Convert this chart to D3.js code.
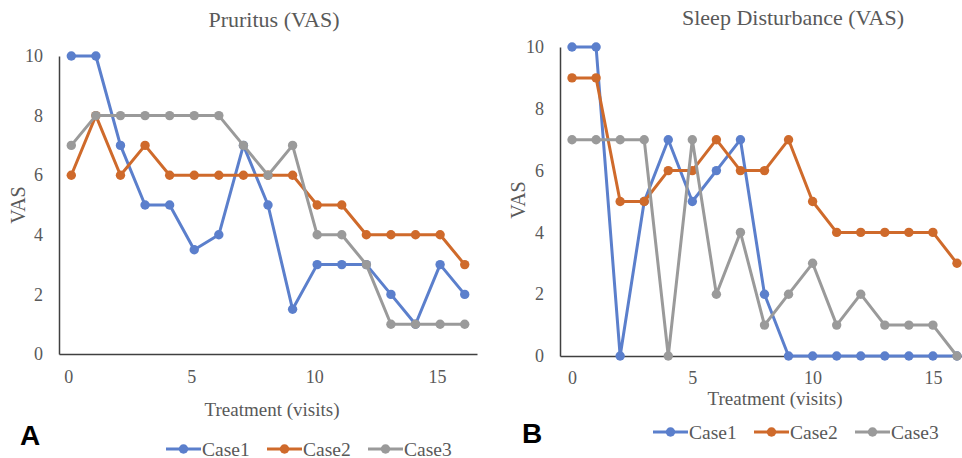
<!DOCTYPE html>
<html>
<head>
<meta charset="utf-8">
<script src="https://cdn.jsdelivr.net/npm/d3@7"></script>
<style>
  body { margin: 0; background: #fff; }
  svg { display: block; }
  text { font-family: "Times New Roman", "Liberation Serif", serif; fill: #595959; }
</style>
</head>
<body>
<div id="chart"></div>
<script>
// visits on the x axis
var visits = d3.range(0, 17)

// series names + colours
var cases = ["Case1", "Case2", "Case3"]
var colors = ["#5b7fcc", "#cf6a2b", "#9a9a9a"]

// panel A : Pruritus (VAS)
var pruritusCase1 = [10, 10, 7, 5, 5, 3.5, 4, 7, 5, 1.5, 3, 3, 3, 2, 1, 3, 2]
var pruritusCase2 = [6, 8, 6, 7, 6, 6, 6, 6, 6, 6, 5, 5, 4, 4, 4, 4, 3]
var pruritusCase3 = [7, 8, 8, 8, 8, 8, 8, 7, 6, 7, 4, 4, 3, 1, 1, 1, 1]

// panel B : Sleep Disturbance (VAS)
var sleepCase1 = [10, 10, 0, 5, 7, 5, 6, 7, 2, 0, 0, 0, 0, 0, 0, 0, 0]
var sleepCase2 = [9, 9, 5, 5, 6, 6, 7, 6, 6, 7, 5, 4, 4, 4, 4, 4, 3]
var sleepCase3 = [7, 7, 7, 7, 0, 7, 2, 4, 1, 2, 3, 1, 2, 1, 1, 1, 0]

// tick labels
var xTicks = [0, 5, 10, 15]
var yTicks = [0, 2, 4, 6, 8, 10]

var width = 962, height = 458

var svg = d3.select("#chart")
  .append("svg")
  .attr("width", width)
  .attr("height", height)

// layout of the two panels (pixels)
var panels = [
  { title: "Pruritus (VAS)", letter: "A", series: [pruritusCase1, pruritusCase2, pruritusCase3],
    left: 59, right: 477, top: 56, bottom: 354,
    titleX: 274, titleY: 27, yLabX: 25, yLabY: 205, xLabX: 272, xLabY: 416, tickY: 383, tickDx: -3,
    letterX: 20, letterY: 445, legendX: 166, legendY: 449 },
  { title: "Sleep Disturbance (VAS)", letter: "B", series: [sleepCase1, sleepCase2, sleepCase3],
    left: 560, right: 969, top: 47, bottom: 356,
    titleX: 793, titleY: 25, yLabX: 525, yLabY: 200, xLabX: 775, xLabY: 405, tickY: 384, tickDx: 0,
    letterX: 522, letterY: 443, legendX: 653, legendY: 432 }
]

panels.forEach(function (p) {
  var g = svg.append("g")

  var x = d3.scaleLinear().domain([-0.5, 16.5]).range([p.left, p.right])
  var y = d3.scaleLinear().domain([0, 10]).range([p.bottom, p.top])

  // y axis (no ticks, just the line + labels)
  var yAxis = g.append("g")
    .attr("transform", "translate(" + p.left + ",0)")
    .call(d3.axisLeft(y).tickValues(yTicks).tickSize(0).tickPadding(16).tickFormat(d3.format("d")))
  yAxis.select(".domain").attr("stroke", "#404040").attr("stroke-width", 1.5)
  yAxis.selectAll("text").style("font-size", "18px").attr("fill", "#595959")
    .style("font-family", "'Times New Roman', 'Liberation Serif', serif")

  // x axis
  var xAxis = g.append("g")
    .attr("transform", "translate(0," + p.bottom + ")")
    .call(d3.axisBottom(x).tickValues(xTicks).tickSize(0).tickPadding(0))
  xAxis.select(".domain").attr("stroke", "#404040").attr("stroke-width", 1.5)
  xAxis.selectAll("text").style("font-size", "18px").attr("fill", "#595959")
    .style("font-family", "'Times New Roman', 'Liberation Serif', serif")
    .attr("dy", null).attr("y", p.tickY - p.bottom).attr("dx", p.tickDx)

  // lines + markers
  p.series.forEach(function (vals, i) {
    var pts = visits.map(function (v, k) { return [v, vals[k]] })
    g.append("path")
      .attr("d", d3.line().x(function (d) { return x(d[0]) }).y(function (d) { return y(d[1]) })(pts))
      .attr("fill", "none")
      .attr("stroke", colors[i])
      .attr("stroke-width", 3)
      .attr("stroke-linejoin", "round")
    g.selectAll(".dot" + i)
      .data(pts).enter()
      .append("circle")
      .attr("cx", function (d) { return x(d[0]) })
      .attr("cy", function (d) { return y(d[1]) })
      .attr("r", 4.7)
      .attr("fill", colors[i])
  })

  // titles
  g.append("text").attr("x", p.titleX).attr("y", p.titleY)
    .attr("text-anchor", "middle").style("font-size", "22px").text(p.title)
  g.append("text").attr("transform", "translate(" + p.yLabX + "," + p.yLabY + ") rotate(-90)")
    .attr("text-anchor", "middle").style("font-size", "20px").text("VAS")
  g.append("text").attr("x", p.xLabX).attr("y", p.xLabY)
    .attr("text-anchor", "middle").style("font-size", "19px").text("Treatment (visits)")

  // panel letter
  g.append("text").attr("x", p.letterX).attr("y", p.letterY)
    .style("font-family", "Arial, 'Liberation Sans', sans-serif")
    .style("font-weight", "bold").style("font-size", "28px").style("fill", "#000")
    .text(p.letter)

  // legend
  var leg = g.selectAll(".leg")
    .data(cases).enter()
    .append("g")
    .attr("transform", function (d, i) { return "translate(" + (p.legendX + i * 101) + "," + p.legendY + ")" })
  leg.append("line").attr("x1", 0).attr("x2", 35)
    .attr("stroke", function (d, i) { return colors[i] }).attr("stroke-width", 3)
  leg.append("circle").attr("cx", 17.5).attr("r", 4.7)
    .attr("fill", function (d, i) { return colors[i] })
  leg.append("text").attr("x", 36).attr("y", 6.5)
    .style("font-size", "19.5px").text(function (d) { return d })
})
</script>
</body>
</html>
